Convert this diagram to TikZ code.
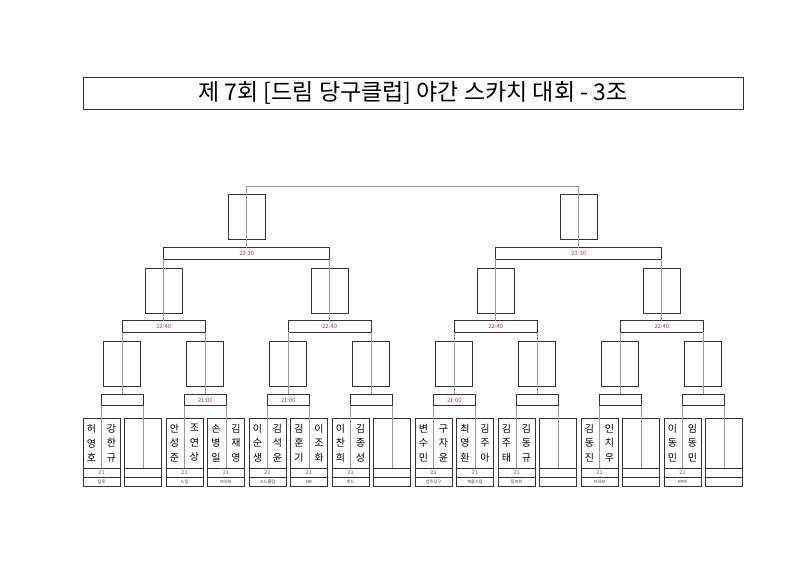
\documentclass[tikz,border=0pt]{standalone}
\usepackage{fontspec}
\setmainfont{Noto Sans CJK KR}
\usepackage{xcolor}
\usetikzlibrary{positioning}
\definecolor{timered}{HTML}{C0392B}
\definecolor{scoreblue}{HTML}{5A55C8}
\begin{document}
\begin{tikzpicture}[
    x=1pt,y=-1pt,
    every node/.style={inner sep=0pt,outer sep=0pt},
    titlebox/.style={draw=black!80,line width=0.8pt,minimum width=660pt,minimum height=32pt,font=\fontsize{23}{23}\selectfont},
    leafbox/.style={draw=black!80,line width=0.7pt,minimum width=37pt,minimum height=50pt},
    rowbox/.style={draw=black!80,line width=0.7pt,minimum width=37pt,minimum height=9pt},
    winbox/.style={draw=black!80,line width=0.7pt,minimum width=37pt,minimum height=45pt},
    matchbox/.style={draw=black!80,line width=0.7pt,minimum height=11.5pt,font=\fontsize{5.8}{6}\selectfont,text=timered},
    namecol/.style={align=center,font=\fontsize{10}{14.5}\selectfont},
    scoretxt/.style={font=\fontsize{5.5}{6}\selectfont,text=scoreblue},
    clubtxt/.style={font=\fontsize{4.2}{5}\selectfont,text=black!75},
    link/.style={draw=black!40,line width=0.8pt}
]
\useasboundingbox (0,0) rectangle (800,566);

\node[titlebox] (title) at (413,93) {제 7회 [드림 당구클럽] 야간 스카치 대회 - 3조};

\foreach \i in {0,...,15}{
    \pgfmathsetmacro\cx{101.5+41.5*\i}
    \node[leafbox] (p\i) at (\cx,443) {};
    \node[rowbox,below=0pt of p\i] (s\i) {};
    \node[rowbox,below=0pt of s\i] (t\i) {};
}

\foreach \i/\a/\b/\club in {
    0/{허\\영\\호}/{강\\한\\규}/팀투,
    2/{안\\성\\준}/{조\\연\\상}/드림,
    3/{손\\병\\일}/{김\\재\\영}/브라보,
    4/{이\\순\\생}/{김\\석\\윤}/소노클럽,
    5/{김\\훈\\기}/{이\\조\\화}/NB,
    6/{이\\찬\\희}/{김\\종\\성}/위드,
    8/{변\\수\\민}/{구\\자\\윤}/청주당구,
    9/{최\\영\\환}/{김\\주\\아}/캐롬스탑,
    10/{김\\주\\태}/{김\\동\\규}/동호회,
    12/{김\\동\\진}/{인\\치\\우}/브라보,
    14/{이\\동\\민}/{임\\동\\민}/RPM}{
    \node[namecol] (na\i) at ([xshift=-10pt]p\i.center) {\a};
    \node[namecol] (nb\i) at ([xshift=10pt]p\i.center) {\b};
    \node[scoretxt] (sc\i) at (s\i) {21};
    \node[clubtxt] (cl\i) at (t\i) {\club};
}

\foreach \k/\tm in {0/{},1/21:00,2/21:00,3/{},4/21:00,5/{},6/{},7/{}}{
    \pgfmathsetmacro\cx{122.25+83*\k}
    \node[matchbox,minimum width=41.5pt] (m1-\k) at (\cx,400) {\tm};
    \node[winbox] (w1-\k) at (\cx,363.5) {};
}
\foreach \j in {0,...,3}{
    \pgfmathsetmacro\cx{163.75+166*\j}
    \node[matchbox,minimum width=83pt] (m2-\j) at (\cx,326.5) {22:40};
    \node[winbox] (w2-\j) at (\cx,290.5) {};
}
\foreach \h in {0,1}{
    \pgfmathsetmacro\cx{246.75+332*\h}
    \node[matchbox,minimum width=166pt] (m3-\h) at (\cx,253.5) {23:30};
    \node[winbox] (w3-\h) at (\cx,216.5) {};
}

\foreach \k [evaluate=\k as \a using int(2*\k),evaluate=\k as \b using int(2*\k+1)] in {0,...,7}{
    \draw[link] (m1-\k.south west) -- (p\a.south);
    \draw[link] (m1-\k.south east) -- (p\b.south);
}
\foreach \j [evaluate=\j as \a using int(2*\j),evaluate=\j as \b using int(2*\j+1)] in {0,...,3}{
    \draw[link] (m2-\j.south west) -- (m1-\a.north);
    \draw[link] (m2-\j.south east) -- (m1-\b.north);
}
\foreach \h [evaluate=\h as \a using int(2*\h),evaluate=\h as \b using int(2*\h+1)] in {0,1}{
    \draw[link] (m3-\h.south west) -- (m2-\a.north);
    \draw[link] (m3-\h.south east) -- (m2-\b.north);
}
\coordinate (f0) at (246.75,186);
\coordinate (f1) at (578.75,186);
\draw[link] (m3-0.north) -- (f0) -- (f1) -- (m3-1.north);
\end{tikzpicture}
\end{document}
